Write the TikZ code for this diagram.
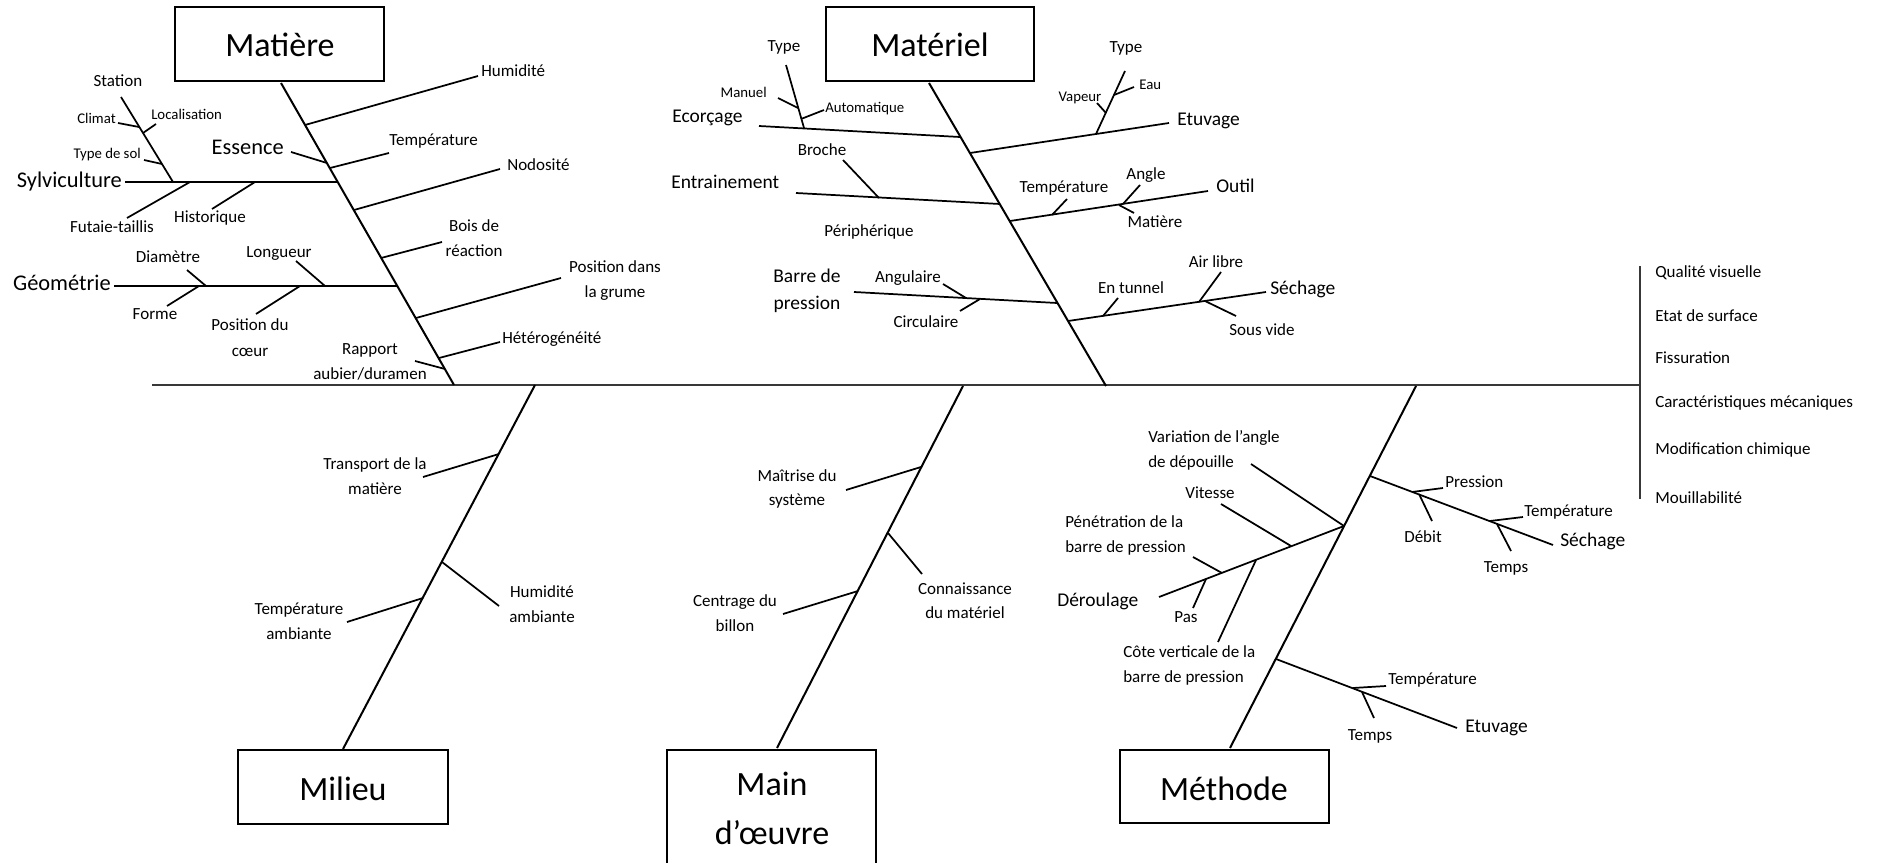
\documentclass[tikz,border=0pt]{standalone}
\usepackage{fontspec}
\setmainfont{Carlito}
\newcommand{\twg}[3]{\coordinate (#1a) at (#2); \coordinate (#1b) at (#3); \draw[twig] (#1a) -- (#1b);}
\begin{document}
\begin{tikzpicture}[x=0.75pt,y=-0.75pt,
  bone/.style={line width=1.5pt, black},
  twig/.style={line width=1.3pt, black},
  spineline/.style={line width=2.2pt, black!78},
  catbox/.style={draw, line width=1.8pt, inner sep=0},
  lbT/.style={inner sep=0, font=\fontsize{11.1}{13}\selectfont},
  lbS/.style={inner sep=0, font=\fontsize{12.75}{15}\selectfont},
  lbM/.style={inner sep=0, font=\fontsize{14.6}{17}\selectfont},
  lbMM/.style={inner sep=0, font=\fontsize{16.8}{19}\selectfont},
  lbL/.style={inner sep=0, font=\fontsize{25.5}{30}\selectfont},
]
\useasboundingbox (0,0) rectangle (1877,863);

% ---------- spine and effect bar ----------
\coordinate (spL) at (152,385);
\coordinate (spR) at (1640,385);
\coordinate (efT) at (1640,266);
\coordinate (efB) at (1640,499);
\draw[spineline] (spL) -- (spR);
\draw[spineline] (efT) -- (efB);
\node[lbS, anchor=base west] (e1) at (1655,277) {Qualité visuelle};
\node[lbS, anchor=base west] (e2) at (1655,321) {Etat de surface};
\node[lbS, anchor=base west] (e3) at (1655,363) {Fissuration};
\node[lbS, anchor=base west] (e4) at (1655,407) {Caractéristiques mécaniques};
\node[lbS, anchor=base west] (e5) at (1655,454) {Modification chimique};
\node[lbS, anchor=base west] (e6) at (1655,503) {Mouillabilité};

% ---------- boxes ----------
\node[catbox, minimum width=156.75pt, minimum height=55.5pt] (bMatiere) at (279.5,44) {};
\node[lbL, anchor=base] (tMatiere) at (280,57) {Matière};
\node[catbox, minimum width=156pt, minimum height=55.5pt] (bMateriel) at (930,44) {};
\node[lbL, anchor=base] (tMateriel) at (930,57) {Matériel};
\node[catbox, minimum width=157.5pt, minimum height=55.5pt] (bMilieu) at (343,787) {};
\node[lbL, anchor=base] (tMilieu) at (343,800) {Milieu};
\node[catbox, minimum width=156.75pt, minimum height=86.25pt] (bMain) at (771.5,807.5) {};
\node[lbL, anchor=base] (tMain1) at (772,795) {Main};
\node[lbL, anchor=base] (tMain2) at (772,844) {d’œuvre};
\node[catbox, minimum width=156.75pt, minimum height=54.75pt] (bMethode) at (1224.5,786.5) {};
\node[lbL, anchor=base] (tMethode) at (1224,800) {Méthode};

% ---------- bones ----------
\coordinate (mtA) at (281,83);   \coordinate (mtB) at (454,385);
\coordinate (maA) at (929,83);   \coordinate (maB) at (1106,386);
\coordinate (miA) at (535,385);  \coordinate (miB) at (343,749);
\coordinate (moA) at (963,386);  \coordinate (moB) at (777,748);
\coordinate (meA) at (1416,386); \coordinate (meB) at (1230,748);
\draw[bone] (mtA) -- (mtB);
\draw[bone] (maA) -- (maB);
\draw[bone] (miA) -- (miB);
\draw[bone] (moA) -- (moB);
\draw[bone] (meA) -- (meB);

% ---------- Matiere ----------
\twg{hum}{305,125}{478,76}
\node[lbS, anchor=base west] (lhum) at (481,77) {Humidité};
\twg{temp}{330,168}{389,153}
\node[lbS, anchor=base west] (ltemp) at (389,146) {Température};
\twg{ess}{327,163}{291,152}
\node[lbMM, anchor=base east] (less) at (284,155) {Essence};
\twg{sylv}{338,182}{125,182}
\node[lbMM, anchor=base east] (lsylv) at (122,187) {Sylviculture};
\twg{stat}{173,182}{121,97}
\node[lbS, anchor=base] (lstat) at (118,87) {Station};
\twg{clim}{139,127}{118,123}
\node[lbT, anchor=base east] (lclim) at (116,124) {Climat};
\twg{loc}{143,133}{156,124}
\node[lbT, anchor=base west] (lloc) at (151,120) {Localisation};
\twg{sol}{162,164}{144,160}
\node[lbT, anchor=base east] (lsol) at (141,159) {Type de sol};
\twg{fut}{190,182}{127,218}
\node[lbS, anchor=base] (lfut) at (112,232) {Futaie-taillis};
\twg{hist}{255,182}{212,209}
\node[lbS, anchor=base] (lhist) at (210,223) {Historique};
\twg{nod}{354,210}{500,169}
\node[lbS, anchor=base west] (lnod) at (507,171) {Nodosité};
\twg{bois}{381,258}{442,242}
\node[lbS, anchor=base] (lbois1) at (474,231) {Bois de};
\node[lbS, anchor=base] (lbois2) at (474,256) {réaction};
\twg{geo}{397,286}{114,286}
\node[lbMM, anchor=base east] (lgeo) at (111,290) {Géométrie};
\twg{diam}{206,286}{187,270}
\node[lbS, anchor=base] (ldiam) at (168,262) {Diamètre};
\twg{forme}{199,286}{167,306}
\node[lbS, anchor=base] (lforme) at (155,319) {Forme};
\twg{long}{325,286}{296,261}
\node[lbS, anchor=base] (llong) at (279,257) {Longueur};
\twg{pos}{300,286}{256,314}
\node[lbS, anchor=base] (lpos1) at (250,330) {Position du};
\node[lbS, anchor=base] (lpos2) at (250,356) {cœur};
\twg{grume}{416,318}{561,278}
\node[lbS, anchor=base] (lgru1) at (615,272) {Position dans};
\node[lbS, anchor=base] (lgru2) at (615,297) {la grume};
\twg{het}{439,358}{500,342}
\node[lbS, anchor=base west] (lhet) at (502,343) {Hétérogénéité};
\twg{rap}{445,369}{415,361}
\node[lbS, anchor=base] (lrap1) at (370,354) {Rapport};
\node[lbS, anchor=base] (lrap2) at (370,379) {aubier/duramen};

% ---------- Materiel ----------
\twg{ecor}{960,137}{759,126}
\node[lbM, anchor=base west] (lecor) at (672,123) {Ecorçage};
\twg{ectype}{804,128}{786,65}
\node[lbS, anchor=base] (lectype) at (784,52) {Type};
\twg{man}{798,108}{778,98}
\node[lbT, anchor=base east] (lman) at (767,98) {Manuel};
\twg{auto}{801,119}{824,110}
\node[lbT, anchor=base west] (lauto) at (825,113) {Automatique};
\twg{etu}{970,153}{1169,123}
\node[lbM, anchor=base west] (letu) at (1177,126) {Etuvage};
\twg{ettype}{1096,134}{1125,71}
\node[lbS, anchor=base] (lettype) at (1126,53) {Type};
\twg{eau}{1114,95}{1134,87}
\node[lbT, anchor=base west] (leau) at (1139,90) {Eau};
\twg{vap}{1106,113}{1097,103}
\node[lbT, anchor=base] (lvap) at (1080,102) {Vapeur};
\twg{ent}{1000,204}{796,193}
\node[lbM, anchor=base west] (lent) at (671,189) {Entrainement};
\twg{broche}{879,198}{843,160}
\node[lbS, anchor=base] (lbroche) at (822,156) {Broche};
\node[lbS, anchor=base] (lperiph) at (869,236) {Périphérique};
\twg{outil}{1010,221}{1208,191}
\node[lbM, anchor=base west] (loutil) at (1216,193) {Outil};
\twg{otemp}{1052,215}{1067,199}
\node[lbS, anchor=base] (lotemp) at (1064,193) {Température};
\twg{angle}{1123,204}{1140,185}
\node[lbS, anchor=base] (langle) at (1146,180) {Angle};
\twg{omat}{1119,205}{1134,213}
\node[lbS, anchor=base] (lomat) at (1155,228) {Matière};
\twg{barre}{1057,303}{854,292}
\node[lbM, anchor=base] (lbarre1) at (807,282) {Barre de};
\node[lbM, anchor=base] (lbarre2) at (807,309) {pression};
\twg{angul}{966,298}{943,284}
\node[lbS, anchor=base] (langul) at (908,282) {Angulaire};
\twg{circ}{980,299}{960,311}
\node[lbS, anchor=base] (lcirc) at (926,327) {Circulaire};
\twg{sech}{1068,321}{1266,292}
\node[lbM, anchor=base west] (lsech) at (1270,294) {Séchage};
\twg{tun}{1103,316}{1118,298}
\node[lbS, anchor=base] (ltun) at (1131,293) {En tunnel};
\twg{air}{1199,302}{1221,272}
\node[lbS, anchor=base] (lair) at (1216,267) {Air libre};
\twg{vide}{1205,301}{1236,316}
\node[lbS, anchor=base] (lvide) at (1262,335) {Sous vide};

% ---------- Milieu ----------
\twg{trans}{499,454}{423,477}
\node[lbS, anchor=base] (ltrans1) at (375,469) {Transport de la};
\node[lbS, anchor=base] (ltrans2) at (375,494) {matière};
\twg{huma}{442,562}{499,606}
\node[lbS, anchor=base] (lhuma1) at (542,597) {Humidité};
\node[lbS, anchor=base] (lhuma2) at (542,622) {ambiante};
\twg{tempa}{423,598}{347,622}
\node[lbS, anchor=base] (ltempa1) at (299,614) {Température};
\node[lbS, anchor=base] (ltempa2) at (299,639) {ambiante};

% ---------- Main d'oeuvre ----------
\twg{maitr}{921,467}{846,490}
\node[lbS, anchor=base] (lmaitr1) at (797,481) {Maîtrise du};
\node[lbS, anchor=base] (lmaitr2) at (797,505) {système};
\twg{conn}{888,533}{922,574}
\node[lbS, anchor=base] (lconn1) at (965,594) {Connaissance};
\node[lbS, anchor=base] (lconn2) at (965,618) {du matériel};
\twg{centr}{858,591}{783,614}
\node[lbS, anchor=base] (lcentr1) at (735,606) {Centrage du};
\node[lbS, anchor=base] (lcentr2) at (735,631) {billon};

% ---------- Methode ----------
\twg{der}{1344,526}{1159,597}
\node[lbM, anchor=base west] (lder) at (1057,606) {Déroulage};
\coordinate (varb) at (1251,464);
\draw[twig] (dera) -- (varb);
\node[lbS, anchor=base west] (lvar1) at (1148,442) {Variation de l’angle};
\node[lbS, anchor=base west] (lvar2) at (1148,467) {de dépouille};
\twg{vit}{1291,546}{1221,504}
\node[lbS, anchor=base] (lvit) at (1210,498) {Vitesse};
\twg{pen}{1222,573}{1193,557}
\node[lbS, anchor=base west] (lpen1) at (1065,527) {Pénétration de la};
\node[lbS, anchor=base west] (lpen2) at (1065,552) {barre de pression};
\twg{pas}{1206,579}{1193,608}
\node[lbS, anchor=base] (lpas) at (1186,622) {Pas};
\twg{cote}{1256,560}{1218,642}
\node[lbS, anchor=base west] (lcote1) at (1123,657) {Côte verticale de la};
\node[lbS, anchor=base west] (lcote2) at (1123,682) {barre de pression};
\twg{msech}{1370,476}{1553,545}
\node[lbM, anchor=base west] (lmsech) at (1560,546) {Séchage};
\twg{press}{1412,492}{1443,488}
\node[lbS, anchor=base west] (lpress) at (1445,487) {Pression};
\twg{debit}{1419,494}{1432,521}
\node[lbS, anchor=base] (ldebit) at (1423,542) {Débit};
\twg{mstemp}{1490,521}{1523,517}
\node[lbS, anchor=base west] (lmstemp) at (1524,516) {Température};
\twg{mstps}{1497,524}{1511,551}
\node[lbS, anchor=base] (lmstps) at (1506,572) {Temps};
\twg{metu}{1276,659}{1457,728}
\node[lbM, anchor=base west] (lmetu) at (1465,732) {Etuvage};
\twg{metemp}{1353,688}{1386,686}
\node[lbS, anchor=base west] (lmetemp) at (1388,684) {Température};
\twg{metps}{1362,692}{1374,718}
\node[lbS, anchor=base] (lmetps) at (1370,740) {Temps};
\end{tikzpicture}
\end{document}
